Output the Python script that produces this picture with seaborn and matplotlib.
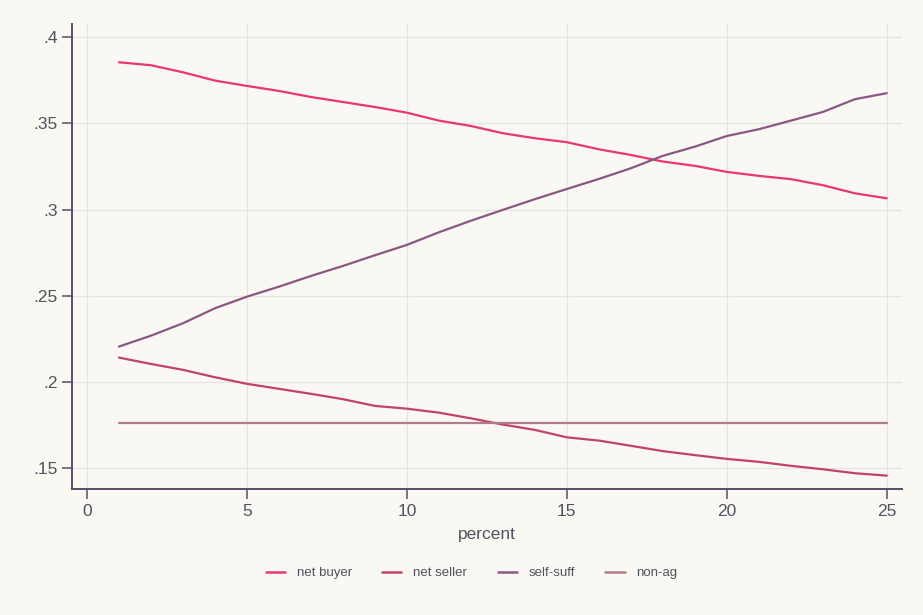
import numpy as np
import pandas as pd
import matplotlib
matplotlib.use("Agg")
import matplotlib.pyplot as plt
import seaborn as sns

# values
percent = list(range(1, 26))
net_buyer = [0.3853, 0.3836, 0.3795, 0.3747, 0.3716, 0.3687, 0.3652, 0.3623, 0.3594, 0.3561,
             0.3515, 0.3484, 0.3442, 0.3413, 0.3390, 0.3349, 0.3316, 0.3278, 0.3253, 0.3218,
             0.3195, 0.3176, 0.3141, 0.3094, 0.3065]
net_seller = [0.2142, 0.2105, 0.2071, 0.2028, 0.1990, 0.1961, 0.1932, 0.1901, 0.1862, 0.1846,
              0.1823, 0.1790, 0.1754, 0.1723, 0.1680, 0.1661, 0.1631, 0.1600, 0.1577, 0.1555,
              0.1538, 0.1515, 0.1495, 0.1472, 0.1458]
self_suff = [0.2206, 0.2269, 0.2341, 0.2428, 0.2495, 0.2553, 0.2615, 0.2673, 0.2735, 0.2795,
             0.2868, 0.2935, 0.2998, 0.3060, 0.3119, 0.3177, 0.3239, 0.3311, 0.3364, 0.3426,
             0.3465, 0.3515, 0.3565, 0.3639, 0.3674]
non_ag = [0.1765] * 25

groups = ["net buyer", "net seller", "self-suff", "non-ag"]
colors = ["#e8386d", "#c2426f", "#8a5783", "#b17b8e"]

df = pd.DataFrame({
    "percent": percent * 4,
    "share": net_buyer + net_seller + self_suff + non_ag,
    "group": [g for g in groups for _ in percent],
})

bg = "#f9f8f2"
axcol = "#5c4d68"
txtcol = "#55505f"

sns.set_style("white")
plt.rcParams["font.family"] = ["Liberation Sans", "DejaVu Sans"]

fig = plt.figure(figsize=(9.23, 6.15), dpi=100, facecolor=bg)
ax = fig.add_axes([0.078, 0.205, 0.899, 0.756])
ax.set_facecolor(bg)

sns.lineplot(data=df, x="percent", y="share", hue="group", hue_order=groups,
             palette=colors, linewidth=1.6, ax=ax, legend=False)

ax.set_xlim(-0.47, 25.47)
ax.set_ylim(0.1381, 0.4075)
ax.set_xticks([0, 5, 10, 15, 20, 25])
ax.set_yticks([0.15, 0.2, 0.25, 0.3, 0.35, 0.4])
ax.set_yticklabels([".15", ".2", ".25", ".3", ".35", ".4"])
ax.grid(True, color="#e6e4de", linewidth=0.9)
ax.set_axisbelow(True)

for s in ["top", "right"]:
    ax.spines[s].set_visible(False)
for s in ["left", "bottom"]:
    ax.spines[s].set_color(axcol)
    ax.spines[s].set_linewidth(1.4)
ax.tick_params(axis="both", colors=axcol, labelcolor=txtcol, labelsize=12.5,
               direction="out", length=7, width=1.1, left=True, bottom=True)

ax.set_xlabel("percent", fontsize=12.5, color=txtcol, labelpad=6)
ax.set_ylabel("")

handles = [plt.Line2D([], [], color=c, linewidth=1.8) for c in colors]
fig.legend(handles, groups, loc="center", bbox_to_anchor=(0.511, 0.068), ncol=4,
           frameon=False, fontsize=9.5, handlelength=1.45, handletextpad=0.9,
           columnspacing=2.3, labelcolor=txtcol)

fig.savefig("out.png", dpi=100, facecolor=bg)
